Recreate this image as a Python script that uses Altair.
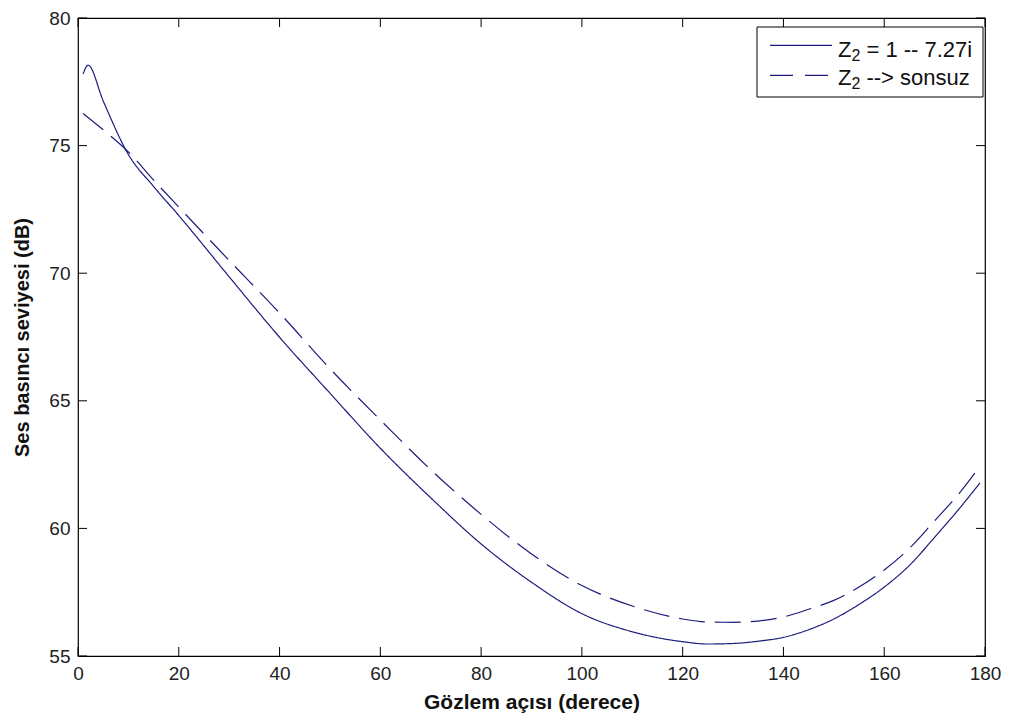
import altair as alt
import pandas as pd

# ---- data ----
series_names = ["Z\u2082 = 1 -- 7.27i", "Z\u2082 --> sonsuz"]
# legend label pieces: main letter, subscript, remainder
legend_main = ["Z", "Z"]
legend_sub = ["2", "2"]
legend_rest = ["= 1 -- 7.27i", "--> sonsuz"]

angles_solid = [1, 2, 5, 10, 15, 20, 30, 40, 50, 60, 70, 80, 90, 100, 110,
                120, 125, 130, 135, 140, 145, 150, 155, 160, 165, 170, 175, 179]
spl_solid = [77.80, 78.15, 76.75, 74.65, 73.40, 72.26, 69.86, 67.49, 65.30,
             63.14, 61.20, 59.39, 57.89, 56.66, 55.95, 55.56, 55.47, 55.49,
             55.58, 55.73, 56.03, 56.45, 57.02, 57.70, 58.55, 59.65, 60.80, 61.78]

angles_dash = [1, 5, 10, 15, 20, 30, 40, 50, 60, 70, 80, 90, 100, 110,
               120, 125, 130, 135, 140, 145, 150, 155, 160, 165, 170, 175, 179]
spl_dash = [76.26, 75.62, 74.75, 73.65, 72.59, 70.50, 68.44, 66.26, 64.25,
            62.30, 60.55, 59.00, 57.76, 56.96, 56.45, 56.33, 56.32, 56.37,
            56.53, 56.83, 57.18, 57.70, 58.37, 59.22, 60.30, 61.40, 62.43]

x_ticks = [0, 20, 40, 60, 80, 100, 120, 140, 160, 180]
y_ticks = [55, 60, 65, 70, 75, 80]

x_title = "Gözlem açısı (derece)"
y_title = "Ses basıncı seviyesi  (dB)"

# ---- build tables ----
df = pd.concat([
    pd.DataFrame({"angle": angles_solid, "spl": spl_solid, "series": series_names[0]}),
    pd.DataFrame({"angle": angles_dash, "spl": spl_dash, "series": series_names[1]}),
], ignore_index=True)

xt = pd.DataFrame({"t": x_ticks})
yt = pd.DataFrame({"t": y_ticks})
one = pd.DataFrame({"k": [0]})

W, H = 907, 638
LINE = "#1c1c7e"
FONT = "Liberation Sans"
TL = 9

xscale = alt.Scale(domain=[0, 180], nice=False, zero=False)
yscale = alt.Scale(domain=[55, 80], nice=False, zero=False)
xaxis = alt.Axis(values=x_ticks, title=x_title, ticks=False, tickSize=0, domain=False,
                 grid=False, labelPadding=8, titlePadding=8, format="d",
                 labelFlush=False, titleFontSize=21)
yaxis = alt.Axis(values=y_ticks, title=y_title, ticks=False, tickSize=0, domain=False,
                 grid=False, labelPadding=8, titlePadding=16, format="d",
                 labelFlush=False, titleFontSize=20)

lines = alt.Chart(df).mark_line(strokeWidth=1.2, color=LINE, interpolate="monotone").encode(
    x=alt.X("angle:Q", scale=xscale, axis=xaxis),
    y=alt.Y("spl:Q", scale=yscale, axis=yaxis),
    strokeDash=alt.StrokeDash("series:N",
                              scale=alt.Scale(domain=series_names, range=[[1, 0], [26, 10]]),
                              legend=None),
    detail="series:N",
)

def xrule(y0, y1):
    return alt.Chart(xt).mark_rule(color="black", strokeWidth=1).encode(
        x=alt.X("t:Q", scale=xscale, axis=xaxis),
        y=alt.value(y0), y2=alt.value(y1))

def yrule(x0, x1):
    return alt.Chart(yt).mark_rule(color="black", strokeWidth=1).encode(
        y=alt.Y("t:Q", scale=yscale, axis=yaxis),
        x=alt.value(x0), x2=alt.value(x1))

ticks = xrule(H, H - TL) + xrule(0, TL) + yrule(0, TL) + yrule(W, W - TL)

# ---- legend (drawn in the top-right corner) ----
LX0, LX1, LY0, LY1 = 679, 905, 9, 79
ROWS = [27.3, 57.3]       # sample line rows
BASE = [39, 67.3]         # text baselines
SX0, SX1 = 692, 754
TX = 760
FS, FSUB = 22, 16
SUB_X = TX + 0.611 * FS
REST_X = SUB_X + 0.556 * FSUB + 0.278 * FS

layers = []
layers.append(alt.Chart(one).mark_rect(fill="white", stroke="black", strokeWidth=1).encode(
    x=alt.value(LX0), x2=alt.value(LX1), y=alt.value(LY0), y2=alt.value(LY1)))
dashes = [[1, 0], [23, 12]]
for i in range(2):
    layers.append(alt.Chart(one).mark_rule(color=LINE, strokeWidth=1.2, strokeDash=dashes[i]).encode(
        x=alt.value(SX0), x2=alt.value(SX1), y=alt.value(ROWS[i])))
    layers.append(alt.Chart(one).mark_text(text=legend_main[i], align="left", baseline="alphabetic",
                                           font=FONT, fontSize=FS, color="#111").encode(
        x=alt.value(TX), y=alt.value(BASE[i])))
    layers.append(alt.Chart(one).mark_text(text=legend_sub[i], align="left", baseline="alphabetic",
                                           font=FONT, fontSize=FSUB, color="#111").encode(
        x=alt.value(SUB_X), y=alt.value(BASE[i] + 4)))
    layers.append(alt.Chart(one).mark_text(text=legend_rest[i], align="left", baseline="alphabetic",
                                           font=FONT, fontSize=FS, color="#111").encode(
        x=alt.value(REST_X), y=alt.value(BASE[i])))

chart = alt.layer(lines, ticks, *layers).properties(
    width=W, height=H,
    autosize=alt.AutoSizeParams(type="none"),
    padding={"left": 70, "top": 10, "right": 24, "bottom": 62},
    background="white",
).configure_view(stroke="black", strokeWidth=1.2).configure_axis(
    labelFont=FONT, labelFontSize=19, labelColor="#222",
    titleFont=FONT, titleFontWeight="bold", titleColor="#111",
)

chart.save("out.html", embed_options={"renderer": "svg", "actions": False})
